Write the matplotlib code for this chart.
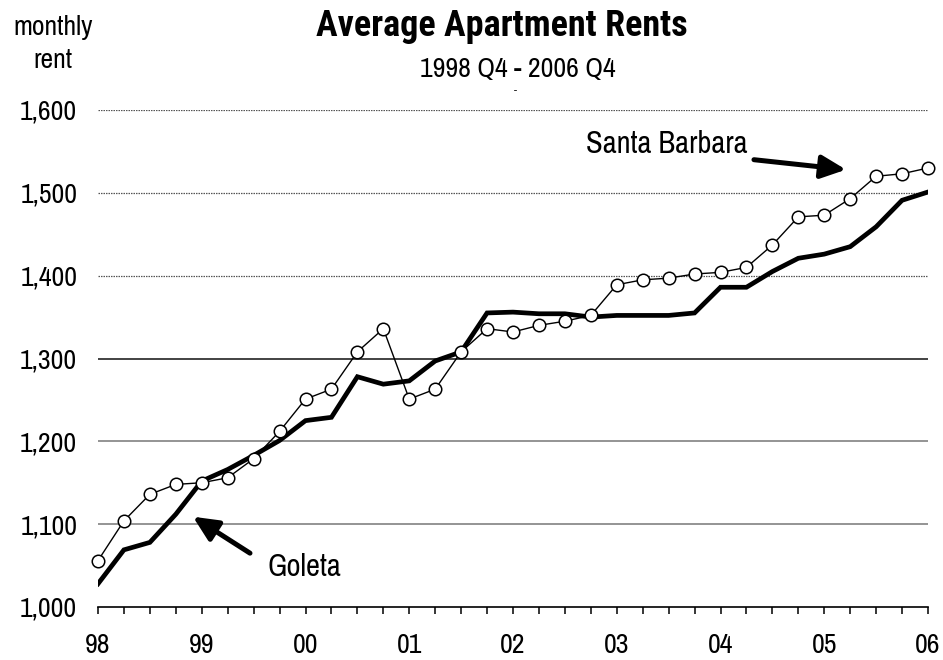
import matplotlib.pyplot as plt

# quarterly, 1998 Q4 .. 2006 Q4
year_labels = ['98', '99', '00', '01', '02', '03', '04', '05', '06']
santa_barbara = [1056, 1104, 1136, 1148, 1150, 1156, 1179, 1212, 1251, 1263,
                 1308, 1336, 1251, 1263, 1308, 1336, 1332, 1340, 1345, 1352,
                 1389, 1395, 1397, 1402, 1404, 1410, 1437, 1471, 1473, 1493,
                 1520, 1523, 1530]
goleta = [1028, 1069, 1078, 1112, 1152, 1166, 1183, 1201, 1225, 1229,
          1278, 1269, 1273, 1297, 1308, 1355, 1356, 1354, 1354, 1350,
          1352, 1352, 1352, 1355, 1386, 1386, 1405, 1421, 1426, 1435,
          1459, 1491, 1501]
quarters = list(range(len(goleta)))

plt.rcParams['font.family'] = ['Archivo Narrow', 'Roboto Condensed', 'DejaVu Sans']
title_font = ['Roboto Condensed', 'Archivo Narrow', 'DejaVu Sans']

fig = plt.figure(figsize=(9.43, 6.6), dpi=100)
ax = fig.add_axes([98 / 943, 1 - 607 / 660, 830 / 943, 497 / 660])

# gridlines: upper ones dotted, lower ones solid
for v in [1600, 1500, 1400]:
    ax.axhline(v, color='#555555', lw=0.9, ls=(0, (1.2, 0.8)), zorder=1)
ax.axhline(1300, color='#222222', lw=1.2, zorder=1)
for v in [1200, 1100]:
    ax.axhline(v, color='#777777', lw=1.1, zorder=1)

ax.plot(quarters, goleta, color='black', lw=3.4, solid_joinstyle='miter', zorder=3)
ax.plot(quarters, santa_barbara, color='black', lw=1.0, marker='o', ms=9,
        mfc='white', mec='black', mew=1.1, zorder=4, clip_on=False)

ax.set_xlim(0, 32)
ax.set_ylim(1000, 1600)
ax.set_yticks([1000, 1100, 1200, 1300, 1400, 1500, 1600])
ax.set_yticklabels(['1,000', '1,100', '1,200', '1,300', '1,400', '1,500', '1,600'])
ax.set_xticks(quarters[::4])
ax.set_xticklabels(year_labels)
ax.set_xticks(quarters, minor=True)

for side in ['top', 'right', 'left']:
    ax.spines[side].set_visible(False)
ax.spines['bottom'].set_linewidth(1.2)
ax.tick_params(axis='y', length=0, pad=15, labelsize=20)
ax.tick_params(axis='x', which='both', direction='out', length=5, width=1.1,
               pad=14, labelsize=20)

fig.text(0.532, 0.961, 'Average Apartment Rents', ha='center', va='center',
         fontsize=26, fontweight='bold', family=title_font)
fig.text(0.549, 0.894, '1998 Q4 - 2006 Q4', ha='center', va='center', fontsize=20)
fig.text(0.547, 0.862, '-', ha='center', va='center', fontsize=8)
fig.text(0.056, 0.958, 'monthly', ha='center', va='center', fontsize=20)
fig.text(0.056, 0.909, 'rent', ha='center', va='center', fontsize=20)

head = '-|>,head_length=1.5,head_width=0.7'
ax.annotate('', xy=(28.84, 1528), xytext=(25.29, 1540),
            arrowprops=dict(arrowstyle=head, color='black', lw=3.6,
                            shrinkA=0, shrinkB=0))
ax.text(25.05, 1559, 'Santa Barbara', ha='right', va='center', fontsize=22)
ax.annotate('', xy=(3.66, 1109), xytext=(5.86, 1065),
            arrowprops=dict(arrowstyle=head, color='black', lw=3.6,
                            shrinkA=0, shrinkB=0))
ax.text(6.55, 1048, 'Goleta', ha='left', va='center', fontsize=22)

fig.savefig('out.png', dpi=100)
